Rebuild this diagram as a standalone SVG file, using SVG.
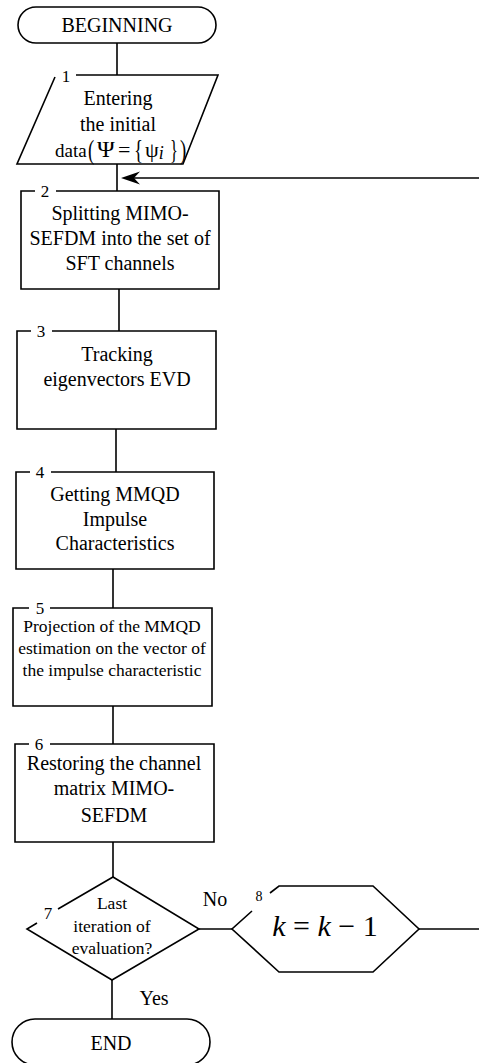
<svg xmlns="http://www.w3.org/2000/svg" width="479" height="1063" viewBox="0 0 479 1063" font-family="'Liberation Serif', 'Times New Roman', serif">
<style>
.s{fill:none;stroke:#000;stroke-width:1.6;stroke-linejoin:miter}
text{font-family:'Liberation Serif','Times New Roman',serif;fill:#000}
.t{font-size:20px;text-anchor:middle}
.ts{font-size:17.5px;text-anchor:middle}
.n{font-size:17px;text-anchor:middle}
.f{text-anchor:start}
</style>
<rect width="479" height="1063" fill="#fff"/>
<g id="connectors">
<path class="s" d="M117 43V75"/>
<path class="s" d="M117 164V191"/>
<path class="s" d="M479 178H130"/>
<path d="M121 178L140 171.5L134 178L140 184.5Z" fill="#000"/>
<path class="s" d="M119 289V331"/>
<path class="s" d="M116 429V472"/>
<path class="s" d="M113 569V608"/>
<path class="s" d="M113 706V744"/>
<path class="s" d="M113 842V877"/>
<path class="s" d="M199 929H232"/>
<path class="s" d="M419 929H479"/>
<path class="s" d="M112 980V1019"/>
<text class="t" x="215" y="906">No</text>
<text class="t" x="154" y="1005">Yes</text>
</g>
<g id="n0">
<rect class="s" x="18" y="7" width="198" height="36" rx="18"/>
<text class="t" x="117" y="32">BEGINNING</text>
</g>
<g id="n1">
<path class="s" d="M76 75H218L183 164H17L55 77"/>
<text class="n" x="66" y="82">1</text>
<text class="t" x="118" y="105">Entering</text>
<text class="t" x="118" y="131">the initial</text>
<text class="f" x="55" y="157" font-size="19">data</text>
<text class="f" transform="translate(88,159) scale(0.85,1.25)" font-size="22">(</text>
<text class="f" x="97" y="157" font-size="24">Ψ</text>
<text class="f" x="118" y="157" font-size="22">=</text>
<text class="f" transform="translate(134,159) scale(0.85,1.25)" font-size="22">{</text>
<text class="f" x="145" y="157" font-size="22">ψ<tspan font-size="18" font-style="italic" dy="2">i</tspan></text>
<text class="f" transform="translate(170,159) scale(0.75,1.25)" font-size="22">}</text>
<text class="f" transform="translate(180,159) scale(0.85,1.25)" font-size="22">)</text>
</g>
<g id="n2">
<path class="s" d="M35 191H21V289H219V191H56"/>
<text class="n" x="45" y="197">2</text>
<text class="t" x="120" y="220">Splitting MIMO-</text>
<text class="t" x="120" y="245">SEFDM into the set of</text>
<text class="t" x="120" y="270">SFT channels</text>
</g>
<g id="n3">
<path class="s" d="M31 331H17V429H216V331H52"/>
<text class="n" x="41" y="337">3</text>
<text class="t" x="117" y="361">Tracking</text>
<text class="t" x="117" y="386">eigenvectors EVD</text>
</g>
<g id="n4">
<path class="s" d="M30 472H16V569H214V472H51"/>
<text class="n" x="40" y="478">4</text>
<text class="t" x="115" y="501">Getting MMQD</text>
<text class="t" x="115" y="526">Impulse</text>
<text class="t" x="115" y="550">Characteristics</text>
</g>
<g id="n5">
<path class="s" d="M29 608H13V706H212V608H50"/>
<text class="n" x="40" y="614">5</text>
<text class="ts" x="112" y="632">Projection of the MMQD</text>
<text class="ts" x="112" y="654">estimation on the vector of</text>
<text class="ts" x="112" y="676">the impulse characteristic</text>
</g>
<g id="n6">
<path class="s" d="M29 744H15V842H214V744H50"/>
<text class="n" x="39" y="750">6</text>
<text class="t" x="114" y="770">Restoring the channel</text>
<text class="t" x="114" y="795">matrix MIMO-</text>
<text class="t" x="114" y="822">SEFDM</text>
</g>
<g id="n7">
<path class="s" d="M58 909L113 877L199 929L112 980L27 929L37 923"/>
<text class="n" x="48" y="919">7</text>
<text class="ts" x="112" y="909">Last</text>
<text class="ts" x="112" y="932">iteration of</text>
<text class="ts" x="112" y="954">evaluation?</text>
</g>
<g id="n8">
<path class="s" d="M270 893L279 886H373L419 929L373 972H279L232 929L252 911"/>
<text x="259" y="901" font-size="14" text-anchor="middle">8</text>
<text x="325" y="936" font-size="30" text-anchor="middle"><tspan font-style="italic">k</tspan> = <tspan font-style="italic">k</tspan> − 1</text>
</g>
<g id="n9">
<rect class="s" x="12" y="1019" width="198" height="46" rx="23"/>
<text class="t" x="111" y="1050">END</text>
</g>
</svg>
